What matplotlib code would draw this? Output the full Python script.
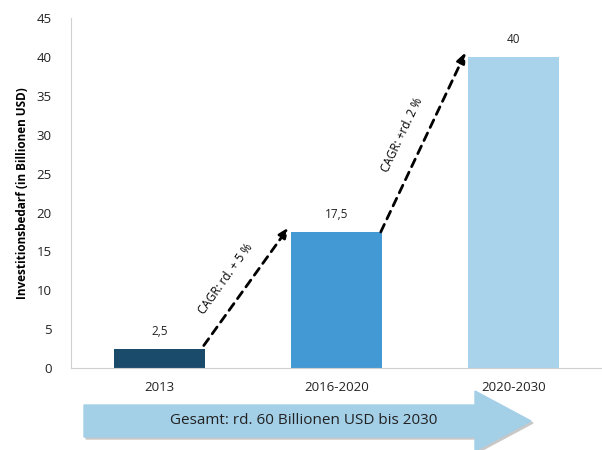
import math
import matplotlib
matplotlib.use("Agg")
import matplotlib.pyplot as plt
from matplotlib.patches import Polygon

plt.rcParams['font.family'] = ['Open Sans', 'DejaVu Sans']

categories = ["2013", "2016-2020", "2020-2030"]
values = [2.5, 17.5, 40]
value_labels = ["2,5", "17,5", "40"]
colors = ["#1B4B6B", "#4399D3", "#A9D3EA"]
cagr_labels = ["CAGR: rd. + 5 %", "CAGR: +rd. 2 %"]
yticks = [0, 5, 10, 15, 20, 25, 30, 35, 40, 45]
total_label = "Gesamt: rd. 60 Billionen USD bis 2030"

fig = plt.figure(figsize=(6.02, 4.5), dpi=100)
ax = fig.add_axes([0.118, 0.182, 0.882, 0.778])
x = list(range(len(categories)))
ax.bar(x, values, width=0.51, color=colors, zorder=2)
ax.set_xlim(-0.5, 2.5)
ax.set_ylim(0, 45)
ax.set_yticks(yticks)
ax.set_xticks(x)
ax.set_xticklabels(categories, fontsize=9.5)
ax.tick_params(axis='both', length=0, labelsize=9.5, colors="#222222")
ax.tick_params(axis='x', pad=9)
ax.tick_params(axis='y', pad=14)
for s in ["top", "right"]:
    ax.spines[s].set_visible(False)
for s in ["left", "bottom"]:
    ax.spines[s].set_color("#D0D0D0")
    ax.spines[s].set_linewidth(0.8)
ax.set_ylabel("Investitionsbedarf (in Billionen USD)", fontsize=8.5, fontweight="bold", labelpad=5)

for xi, v, lab in zip(x, values, value_labels):
    ax.text(xi, v + 1.4, lab, ha="center", va="bottom", fontsize=8.5, color="#222222")

# CAGR dashed arrows
for i, lab in enumerate(cagr_labels):
    x0 = x[i] + 0.25
    y0 = values[i] + 0.4 if i == 0 else values[i]
    x1, y1 = x[i + 1] - 0.27, values[i + 1] + 0.6
    ax.annotate("", xy=(x1, y1), xytext=(x0, y0),
                arrowprops=dict(arrowstyle="-|>,head_length=0.6,head_width=0.25",
                                linestyle=(0, (3, 2.2)), lw=2, color="black",
                                shrinkA=0, shrinkB=0), zorder=3)
    p0 = ax.transData.transform((x0, y0))
    p1 = ax.transData.transform((x1, y1))
    ang = math.degrees(math.atan2(p1[1] - p0[1], p1[0] - p0[0]))
    mx, my = (x0 + x1) / 2, (y0 + y1) / 2
    ax.annotate(lab, xy=(mx, my), xytext=(-11, 3), textcoords="offset points",
                rotation=ang, rotation_mode="anchor", ha="center", va="bottom",
                fontsize=8.5)

# bottom arrow in figure pixel coordinates
W, H = 602, 450
def fx(px):
    return px / W
def fy(py):
    return 1 - py / H
pts = [(84, 405), (475, 405), (475, 391), (531, 421), (475, 451), (475, 437), (84, 437)]
shadow = Polygon([(fx(px + 2), fy(py + 2)) for px, py in pts], closed=True,
                 transform=fig.transFigure, color="#C8C8C8", zorder=0)
arrow = Polygon([(fx(px), fy(py)) for px, py in pts], closed=True,
                transform=fig.transFigure, color="#A3CFE7", zorder=1)
fig.patches.extend([shadow, arrow])
fig.text(fx(304), fy(421), total_label, ha="center", va="center", fontsize=11, color="#222222")

fig.savefig("out.png", dpi=100)
